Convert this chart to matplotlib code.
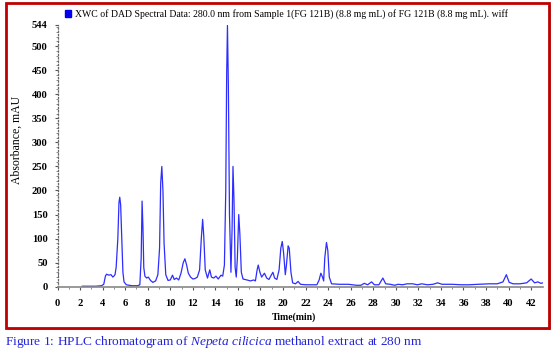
import matplotlib

matplotlib.use("Agg")
import matplotlib.pyplot as plt
from matplotlib.patches import Patch, Rectangle

# chromatogram trace (time in min, absorbance in mAU)
time_min = [
    2.2, 2.8, 3.4, 3.9, 4.1, 4.25, 4.35, 4.55, 4.75, 4.9, 5.0, 5.1, 5.2, 5.35,
    5.45, 5.52, 5.6, 5.7, 5.8, 5.9, 6.1, 6.6, 7.1, 7.3, 7.42, 7.5, 7.58, 7.65,
    7.75, 7.9, 8.05, 8.25, 8.45, 8.7, 8.9, 9.05, 9.15, 9.25, 9.35, 9.45, 9.6,
    9.8, 10.0, 10.2, 10.35, 10.55, 10.75, 10.95, 11.15, 11.3, 11.45, 11.6,
    11.8, 12.0, 12.2, 12.4, 12.6, 12.75, 12.87, 12.97, 13.1, 13.3, 13.5,
    13.65, 13.85, 14.05, 14.25, 14.5, 14.65, 14.8, 14.92, 15.0, 15.07, 15.15,
    15.25, 15.38, 15.48, 15.56, 15.65, 15.75, 15.85, 15.95, 16.07, 16.17,
    16.3, 16.45, 16.8, 17.1, 17.4, 17.55, 17.7, 17.8, 17.95, 18.1, 18.35,
    18.55, 18.75, 18.95, 19.1, 19.25, 19.45, 19.65, 19.8, 19.93, 20.05, 20.2,
    20.3, 20.45, 20.55, 20.7, 20.85, 21.1, 21.33, 21.55, 22.0, 22.5, 23.0,
    23.2, 23.35, 23.5, 23.6, 23.7, 23.85, 23.97, 24.1, 24.3, 25.0, 25.8,
    26.5, 26.9, 27.2, 27.5, 27.85, 28.1, 28.5, 28.85, 29.1, 29.5, 29.9, 30.2,
    30.6, 31.0, 31.5, 31.9, 32.3, 32.8, 33.3, 33.7, 34.1, 35.0, 35.8, 36.5,
    37.3, 38.3, 39.0, 39.5, 39.8, 40.05, 40.4, 41.0, 41.6, 42.0, 42.3, 42.6,
    42.85, 43.05,
]
absorbance = [
    1, 1, 1, 2, 5, 22, 26, 24, 25, 20, 22, 25, 40, 100,
    175, 186, 170, 100, 30, 10, 4, 2, 2, 4, 60, 178, 120, 40,
    22, 18, 20, 13, 9, 12, 25, 80, 215, 250, 200, 90, 25,
    13, 14, 24, 15, 18, 14, 28, 50, 58, 45, 28,
    20, 16, 17, 20, 35, 100, 140, 105, 35, 18, 35,
    20, 18, 22, 16, 24, 22, 45, 200, 440, 543, 420,
    150, 30, 120, 250, 180, 40, 20, 60, 150, 110,
    30, 16, 14, 12, 14, 12, 35, 45, 30, 20, 28,
    18, 15, 24, 30, 18, 15, 35, 80, 94, 70, 25,
    45, 85, 80, 30, 8, 6, 11, 5, 4, 4, 4,
    14, 28, 20, 12, 60, 92, 75, 20, 6, 5, 5,
    3, 3, 7, 4, 10, 4, 4, 18, 6, 5, 3, 5,
    4, 6, 6, 4, 6, 4, 5, 8, 5, 5, 4, 4,
    5, 6, 6, 10, 25, 9, 6, 6, 8, 16, 8, 10,
    7, 8,
]
start_time = [0.0, 0.04]
start_abs = [28, 22]

x_ticks = list(range(0, 43, 2))
y_ticks = [0, 50, 100, 150, 200, 250, 300, 350, 400, 450, 500, 544]

legend_label = (
    "XWC of DAD Spectral Data: 280.0 nm from Sample 1(FG 121B) (8.8 mg mL) "
    "of FG 121B (8.8 mg mL). wiff"
)
caption = "Figure 1: HPLC chromatogram of $\\it{Nepeta\\ cilicica}$ methanol extract at 280 nm"

serif = ["Liberation Serif", "DejaVu Serif"]
plt.rcParams["font.family"] = serif
plt.rcParams["mathtext.fontset"] = "custom"
plt.rcParams["mathtext.it"] = "Liberation Serif:italic"
plt.rcParams["mathtext.rm"] = "Liberation Serif"

W, H = 553, 356
fig = plt.figure(figsize=(W / 100, H / 100), dpi=100, facecolor="white")

# red frame with a grey drop shadow
fig.add_artist(Rectangle((8 / W, 1 - 330 / H), 543 / W, 325 / H, transform=fig.transFigure,
                         facecolor="#9a9a9a", edgecolor="none", zorder=-3))
fig.add_artist(Rectangle((6 / W, 1 - 328 / H), 543 / W, 325 / H, transform=fig.transFigure,
                         facecolor="white", edgecolor="#c00000", lw=2, zorder=-2))

ax = fig.add_axes([57.5 / W, 1 - 286.7 / H, (543 - 57.5) / W, (286.7 - 25) / H])
ax.set_facecolor("none")

blue = "#2d2dff"
ax.plot(time_min, absorbance, color=blue, lw=0.9)
ax.plot(start_time, start_abs, color=blue, lw=1.2)

ax.set_xlim(0, 43.05)
ax.set_ylim(0, 544)
ax.set_xticks(x_ticks)
ax.set_xticks(range(1, 43, 2), minor=True)
ax.set_yticks(y_ticks)
ax.set_yticks(range(0, 545, 10), minor=True)
ax.tick_params(axis="both", which="major", labelsize=7.6, length=2, color="#555555")
ax.tick_params(axis="both", which="minor", length=1.5, color="#777777")
ax.tick_params(axis="x", pad=7)
ax.tick_params(axis="y", pad=5)
for lab in ax.get_xticklabels() + ax.get_yticklabels():
    lab.set_fontweight("bold")

for side in ("top", "right"):
    ax.spines[side].set_visible(False)
ax.spines["left"].set_linestyle(":")
ax.spines["left"].set_color("#666666")
ax.spines["left"].set_linewidth(0.9)
ax.spines["bottom"].set_color("#888888")
ax.spines["bottom"].set_linewidth(1.2)

fig.text(294 / W, 1 - 317.5 / H, "Time(min)", ha="center", va="center",
         fontsize=7, fontweight="bold")
fig.text(17 / W, 1 - 140 / H, "Absorbance, mAU", ha="center", va="center",
         rotation=90, fontsize=8.5)

fig.legend(handles=[Patch(facecolor="#0000ee", edgecolor="#0000ee")], labels=[legend_label],
           loc="center left", bbox_to_anchor=(65 / W, 1 - 14 / H), frameon=False,
           handlelength=0.65, handleheight=0.65, handletextpad=0.35,
           borderpad=0, borderaxespad=0, prop={"size": 7})

fig.text(5 / W, 1 - 342 / H, caption, ha="left", va="center", fontsize=9.6,
         color="#2323d8")

fig.savefig("out.png", dpi=100, facecolor="white")
